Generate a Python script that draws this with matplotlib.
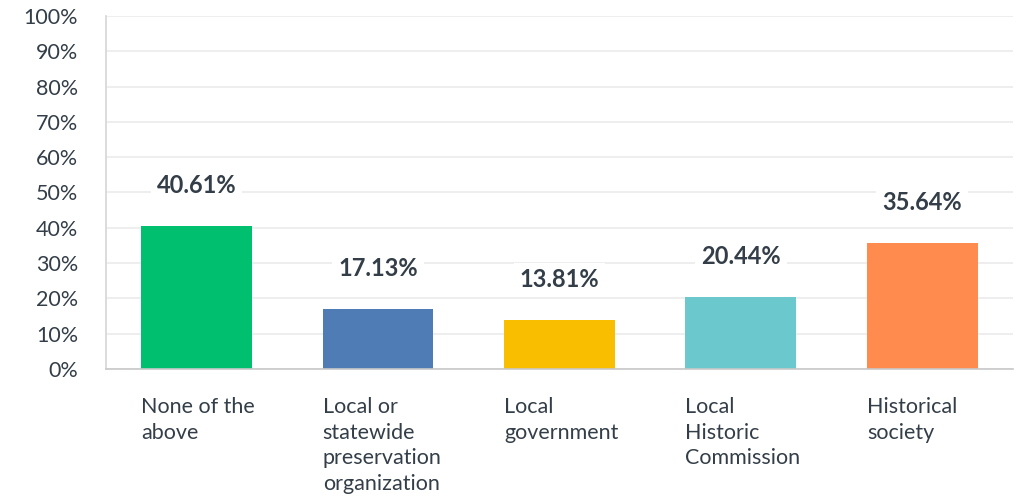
import matplotlib.pyplot as plt

# Survey responses, percent of respondents
categories = [
    "None of the\nabove",
    "Local or\nstatewide\npreservation\norganization",
    "Local\ngovernment",
    "Local\nHistoric\nCommission",
    "Historical\nsociety",
]
values = [40.61, 17.13, 13.81, 20.44, 35.64]
colors = ["#00bf6f", "#507cb6", "#f9be00", "#6bc8cd", "#ff8b4f"]
yticks = list(range(0, 101, 10))

text_color = "#333e48"
plt.rcParams["font.family"] = ["Lato", "DejaVu Sans"]

fig = plt.figure(figsize=(10.19, 4.99), dpi=100)
ax = fig.add_axes([0.104, 0.2605, 0.89, 0.7075])

bar_width = 0.61
x = list(range(len(values)))
ax.bar(x, values, width=bar_width, color=colors, zorder=2)

ax.set_xlim(-0.5, len(values) - 0.5)
ax.set_ylim(0, 100)
ax.set_yticks(yticks)
ax.set_yticklabels([f"{t}%" for t in yticks])
ax.tick_params(axis="y", length=0, pad=20, labelsize=15.5, labelcolor=text_color)
ax.set_xticks([])

ax.grid(axis="y", color="#ebebeb", linewidth=1.2, zorder=0)
for side in ["top", "right"]:
    ax.spines[side].set_visible(False)
ax.spines["left"].set_color("#d6d6d6")
ax.spines["bottom"].set_color("#c8c8c8")
ax.spines["left"].set_linewidth(1.2)
ax.spines["bottom"].set_linewidth(1.2)

# value labels above bars, boxed in white so gridlines break around them
for xi, v in zip(x, values):
    ax.annotate(f"{v:.2f}%", xy=(xi, v), xytext=(0, 29), textcoords="offset points",
                ha="center", va="center", fontsize=17, fontweight="bold",
                color=text_color, zorder=3,
                bbox=dict(boxstyle="square,pad=0.25", fc="white", ec="none"))

# category labels, left aligned with each bar
for xi, label in zip(x, categories):
    ax.annotate(label, xy=(xi - bar_width / 2, 0), xycoords=("data", "axes fraction"),
                xytext=(0, -20), textcoords="offset points",
                ha="left", va="top", fontsize=15.5, color=text_color,
                linespacing=1.36, annotation_clip=False)

fig.savefig("out.png", dpi=100, facecolor="white")
